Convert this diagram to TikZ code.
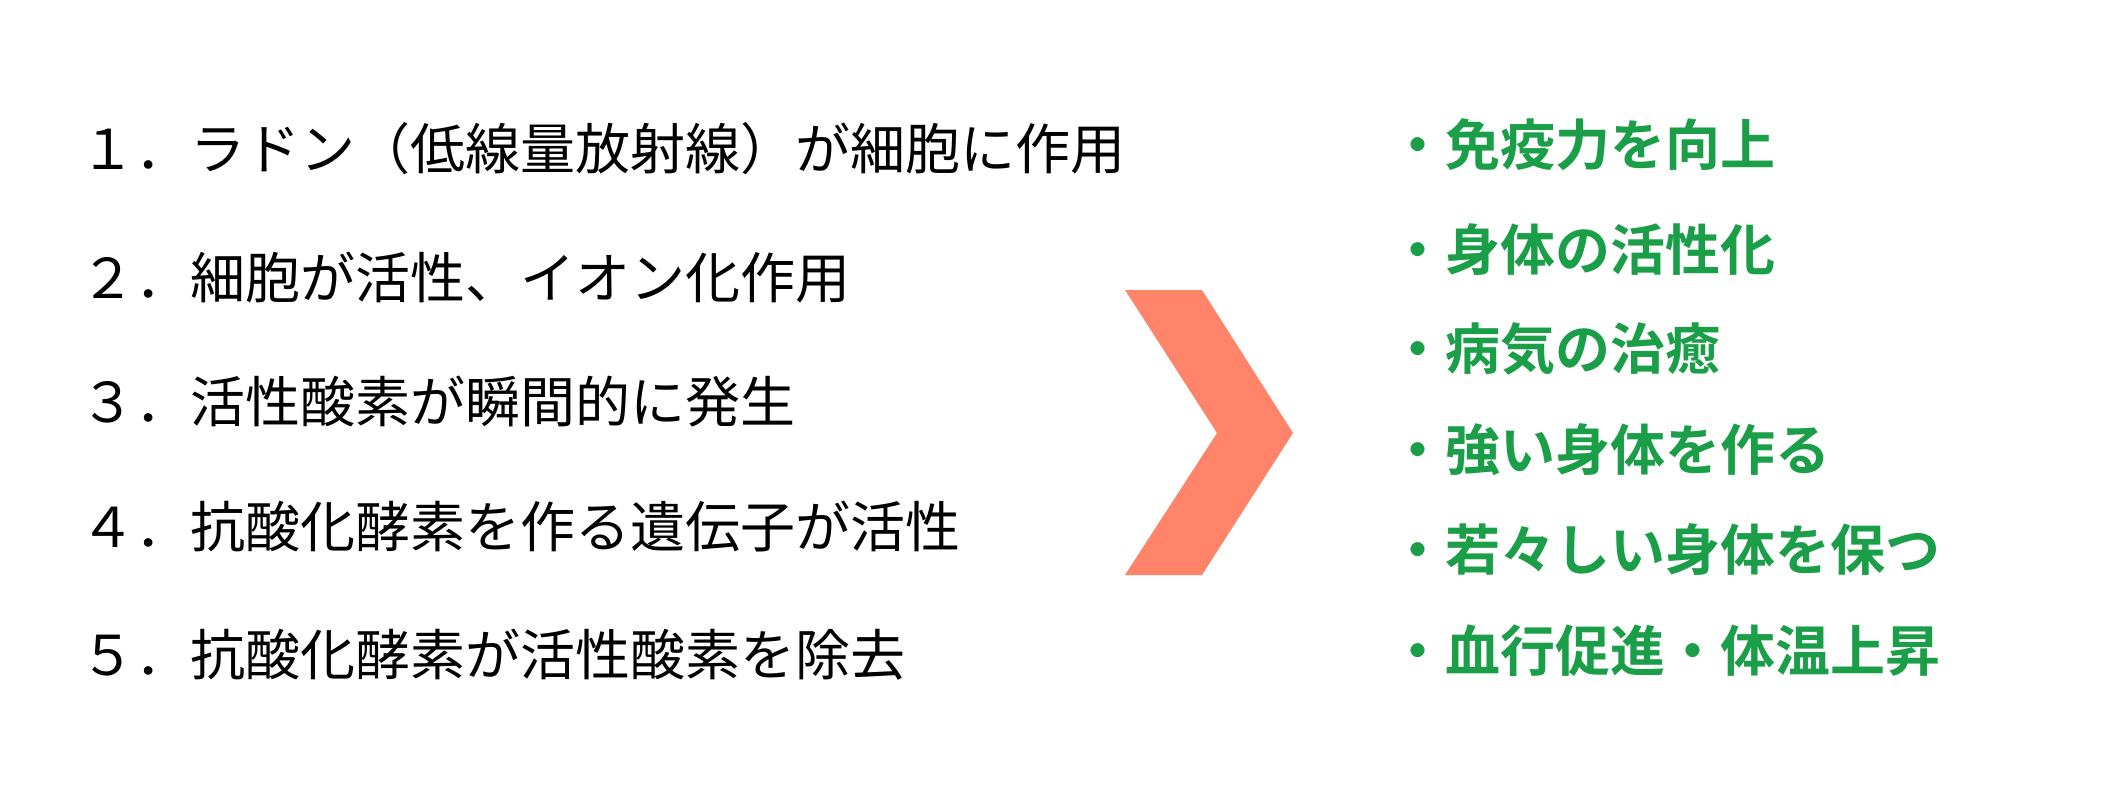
\documentclass[tikz,border=0pt]{standalone}
\usepackage{fontspec}
\newfontfamily\jp{Noto Sans CJK JP}
\newfontfamily\jpb{Noto Sans CJK JP Bold}
\definecolor{chev}{RGB}{255,132,106}
\definecolor{okgreen}{RGB}{26,158,72}
\tikzset{
  steptext/.style={anchor=west,inner sep=0pt,font=\jp\fontsize{55}{66}\selectfont,text=black,text height=0.83em,text depth=0.07em},
  effecttext/.style={anchor=west,inner sep=0pt,font=\jpb\fontsize{55}{66}\selectfont,text=okgreen,text height=0.83em,text depth=0.07em}
}
\begin{document}
\begin{tikzpicture}[x=1pt,y=-1pt]
\useasboundingbox[fill=white] (0,0) rectangle (2122,800);
\node[steptext] (s1) at (80,166) {１．ラドン（低線量放射線）が細胞に作用};
\node[steptext] (s2) at (80,295) {２．細胞が活性、イオン化作用};
\node[steptext] (s3) at (80,419) {３．活性酸素が瞬間的に発生};
\node[steptext] (s4) at (80,544) {４．抗酸化酵素を作る遺伝子が活性};
\node[steptext] (s5) at (80,672) {５．抗酸化酵素が活性酸素を除去};
\fill[chev] (1125,290) -- (1202,290) -- (1293,433) -- (1202,575) -- (1125,575) -- (1217,433) -- cycle;
\node[effecttext] (e1) at (1390,162) {・免疫力を向上};
\node[effecttext] (e2) at (1390,267) {・身体の活性化};
\node[effecttext] (e3) at (1390,366) {・病気の治癒};
\node[effecttext] (e4) at (1390,467) {・強い身体を作る};
\node[effecttext] (e5) at (1390,567) {・若々しい身体を保つ};
\node[effecttext] (e6) at (1390,668) {・血行促進・体温上昇};
\end{tikzpicture}
\end{document}
